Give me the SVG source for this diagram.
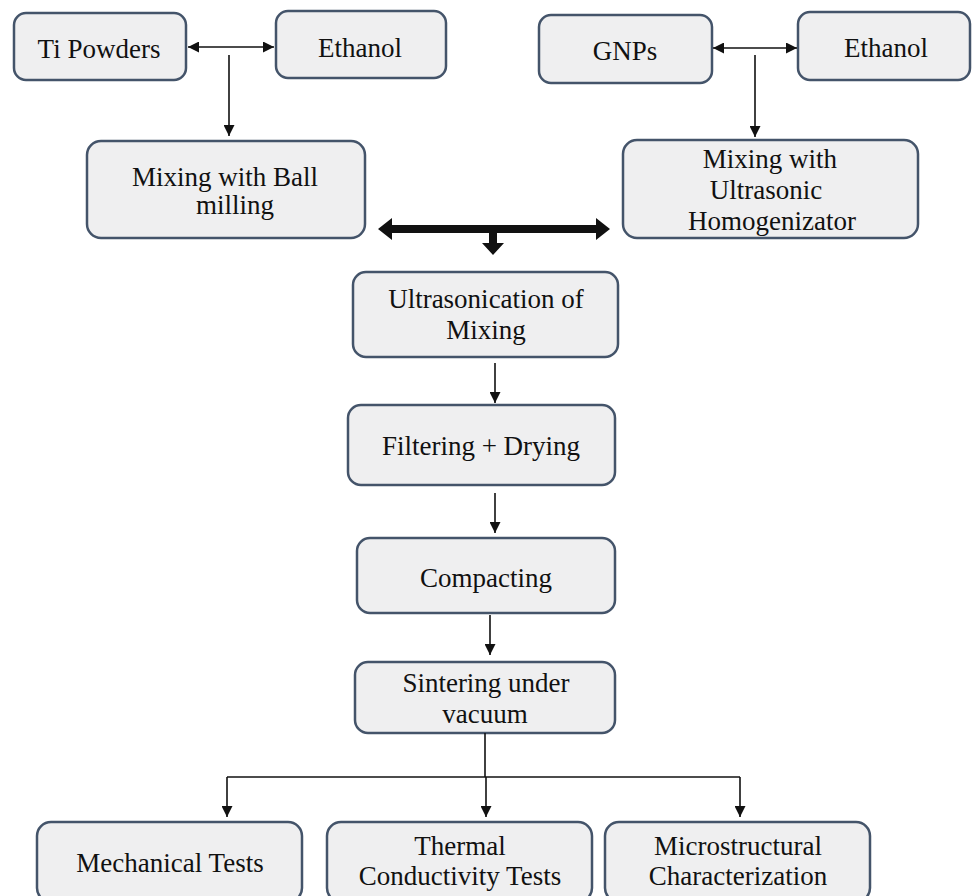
<svg xmlns="http://www.w3.org/2000/svg" width="972" height="896" viewBox="0 0 972 896">
<style>
.box{fill:#efeff0;stroke:#44546a;stroke-width:2.5}
.t{font-size:27px;fill:#111;text-anchor:middle}
.ln{stroke:#111;stroke-width:1.6;fill:none}
</style>
<defs>
<marker id="ah" viewBox="0 0 10 10" markerWidth="11" markerHeight="11" refX="10" refY="5" markerUnits="userSpaceOnUse" orient="auto-start-reverse">
<path d="M0,0 L10,5 L0,10 z" fill="#111"/>
</marker>
</defs>
<rect width="972" height="896" fill="#fff"/>
<g font-family="Liberation Serif, DejaVu Serif, serif">
<g id="n-ti"><rect class="box" x="14" y="13" width="172" height="67" rx="12"/><text class="t" x="99" y="58">Ti Powders</text></g>
<g id="n-eth1"><rect class="box" x="276" y="11" width="170" height="67" rx="12"/><text class="t" x="360" y="57">Ethanol</text></g>
<g id="n-gnp"><rect class="box" x="539" y="15" width="173" height="68" rx="12"/><text class="t" x="625" y="60">GNPs</text></g>
<g id="n-eth2"><rect class="box" x="798" y="12" width="172" height="68" rx="12"/><text class="t" x="886" y="57">Ethanol</text></g>
<g id="n-ball"><rect class="box" x="87" y="141" width="278" height="97" rx="14"/><text class="t" x="225" y="186">Mixing with Ball</text><text class="t" x="235" y="214">milling</text></g>
<g id="n-ultra"><rect class="box" x="623" y="140" width="295" height="98" rx="14"/><text class="t" x="770" y="168">Mixing with</text><text class="t" x="766" y="199">Ultrasonic</text><text class="t" x="772" y="230">Homogenizator</text></g>
<g id="n-sonic"><rect class="box" x="353" y="272" width="265" height="85" rx="13"/><text class="t" x="486" y="308">Ultrasonication of</text><text class="t" x="486" y="339">Mixing</text></g>
<g id="n-filter"><rect class="box" x="348" y="405" width="267" height="80" rx="13"/><text class="t" x="481" y="455">Filtering + Drying</text></g>
<g id="n-compact"><rect class="box" x="357" y="538" width="258" height="75" rx="13"/><text class="t" x="486" y="587">Compacting</text></g>
<g id="n-sinter"><rect class="box" x="355" y="662" width="260" height="71" rx="13"/><text class="t" x="486" y="692">Sintering under</text><text class="t" x="485" y="723">vacuum</text></g>
<g id="n-mech"><rect class="box" x="37" y="822" width="265" height="80" rx="14"/><text class="t" x="170" y="872">Mechanical Tests</text></g>
<g id="n-therm"><rect class="box" x="327" y="822" width="265" height="80" rx="14"/><text class="t" x="460" y="855">Thermal</text><text class="t" x="460" y="885">Conductivity Tests</text></g>
<g id="n-micro"><rect class="box" x="605" y="822" width="265" height="80" rx="14"/><text class="t" x="738" y="855">Microstructural</text><text class="t" x="738" y="885">Characterization</text></g>
</g>
<g id="connectors">
<line class="ln" x1="188" y1="47" x2="274" y2="47" marker-start="url(#ah)" marker-end="url(#ah)"/>
<line class="ln" x1="229" y1="55" x2="229" y2="136" marker-end="url(#ah)"/>
<line class="ln" x1="713" y1="48" x2="797" y2="48" marker-start="url(#ah)" marker-end="url(#ah)"/>
<line class="ln" x1="755" y1="55" x2="755" y2="137" marker-end="url(#ah)"/>
<polygon fill="#111" points="378,229 392,218 392,225 596,225 596,218 610,229 596,240 596,233 497,233 497,243 504,243 493,255 482,243 489,243 489,233 392,233 392,240"/>
<line class="ln" x1="495" y1="363" x2="495" y2="403" marker-end="url(#ah)"/>
<line class="ln" x1="495" y1="493" x2="495" y2="533" marker-end="url(#ah)"/>
<line class="ln" x1="490" y1="615" x2="490" y2="655" marker-end="url(#ah)"/>
<line class="ln" x1="485" y1="733" x2="485" y2="777"/>
<line class="ln" x1="227" y1="777" x2="740" y2="777"/>
<line class="ln" x1="227" y1="777" x2="227" y2="817" marker-end="url(#ah)"/>
<line class="ln" x1="486" y1="777" x2="486" y2="817" marker-end="url(#ah)"/>
<line class="ln" x1="740" y1="777" x2="740" y2="817" marker-end="url(#ah)"/>
</g>
</svg>
